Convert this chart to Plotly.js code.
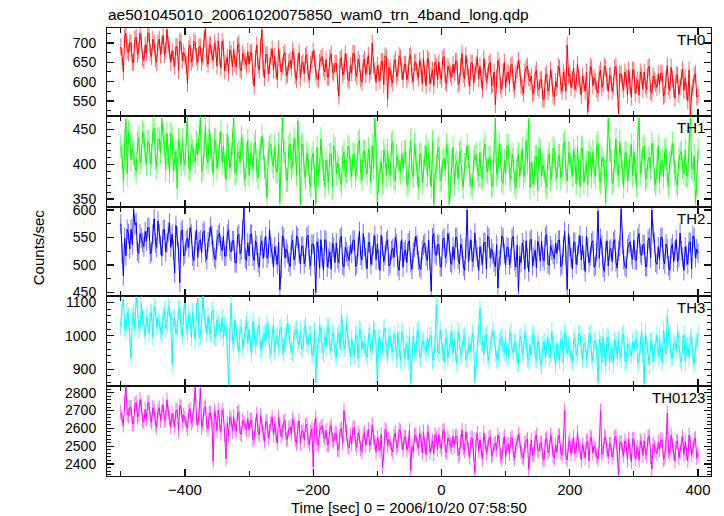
<!DOCTYPE html>
<html><head><meta charset="utf-8">
<script src="https://cdn.plot.ly/plotly-3.0.1.min.js"></script>
<style>html,body{margin:0;padding:0;background:#fff}#chart{width:724px;height:516px}</style>
</head><body><div id="chart"></div>
<script>
// 2-s time bins from -500 s; "A" arrays hold bins at t = -500 + 4i, "B" arrays bins at t = -498 + 4i
const tStart = -500, tStep = 2;

const th0A = [
690,625,725,675,700,650,715,680,705,655,
675,725,665,700,650,710,695,670,735,680,
680,640,690,705,655,665,595,695,660,700,
650,690,665,738,645,695,655,685,705,635,
688,648,623,673,683,638,698,628,663,643,
645,675,588,695,630,735,610,670,640,685,
665,605,660,640,675,620,655,680,615,650,
610,650,665,620,645,680,625,605,660,635,
657,612,672,622,647,562,662,627,652,602,
623,673,613,648,598,658,643,618,700,628,
642,602,652,667,555,627,597,657,622,662,
605,645,620,670,600,650,610,640,660,590,
655,615,590,640,650,605,665,595,630,610,
623,653,598,673,608,638,588,648,618,663,
640,580,635,615,650,595,540,655,590,625,
585,625,640,595,620,655,590,570,635,610,
615,570,630,580,605,555,620,585,610,560,
585,635,575,610,695,620,605,580,645,590,
615,575,522,640,590,600,570,630,595,635,
575,615,590,640,518,620,580,610,630,560,
630,590,565,615,625,580,640,570,605,585,
592,622,567,642,577,607,557,617,587,632,
610,550,512,585,620,565];
const th0B = [
665,715,680,700,650,710,670,725,660,695,
725,675,710,660,700,670,720,680,695,650,
660,690,630,700,675,645,685,650,705,665,
690,650,710,660,695,670,700,640,665,705,
628,663,683,638,648,693,633,673,653,678,
675,615,660,640,690,635,670,620,665,630,
630,685,625,670,615,650,635,665,605,675,
645,620,670,605,655,660,610,650,665,625,
612,662,627,647,597,657,617,672,607,642,
673,623,658,608,648,618,668,628,643,598,
622,652,592,662,637,607,647,612,667,627,
645,605,665,615,650,625,655,595,620,660,
595,630,650,605,615,660,600,640,620,645,
653,593,638,618,668,613,648,598,643,608,
605,660,600,645,590,625,610,640,580,650,
620,595,645,580,630,635,585,625,640,600,
570,620,585,605,555,615,575,630,565,600,
640,590,625,575,615,585,635,595,610,565,
595,625,565,635,610,580,620,585,640,600,
615,575,635,585,620,595,625,565,590,630,
570,605,625,580,590,635,575,615,595,620,
622,562,607,587,637,582,617,567,612,577,
575,630,570,615,560];

const th1A = [
426,376,464,446,406,414,390,438,410,442,
400,432,412,452,396,436,465,428,444,388,
439,407,366,427,435,399,466,391,419,403,
414,466,394,454,402,426,386,434,410,446,
426,378,422,406,466,390,418,438,386,414,
384,416,428,392,412,440,396,352,424,404,
425,389,345,466,417,377,429,401,421,462,
342,428,380,408,368,416,344,384,436,392,
406,374,414,426,386,394,370,418,390,422,
382,414,394,434,378,418,386,410,426,465,
345,392,372,412,420,384,432,376,404,388,
394,418,374,434,382,406,366,414,390,426,
416,368,342,396,424,380,408,428,343,404,
371,403,415,379,399,427,383,367,411,391,
417,381,429,389,409,369,466,393,413,373,
386,426,378,406,366,414,402,382,434,464,
403,371,411,423,383,391,367,415,387,419,
380,412,392,432,376,416,384,408,424,368,
422,390,370,410,418,382,430,374,402,345,
465,420,376,436,384,408,368,416,392,428,
418,370,466,398,426,382,410,430,378,406,
374,406,418,382,402,430,386,370,414,394,
420,384,466,392,345,420];
const th1B = [
410,434,386,442,422,398,430,402,446,414,
432,400,448,408,436,416,440,392,412,444,
391,419,435,399,407,443,395,427,411,431,
438,390,426,410,450,406,434,394,430,402,
398,442,394,430,386,414,402,426,378,434,
412,392,432,380,420,424,384,416,428,396,
389,429,401,417,377,425,393,437,385,413,
428,388,416,376,408,384,424,392,404,368,
390,414,366,422,402,378,410,382,426,394,
414,382,430,390,418,398,422,374,394,426,
376,404,420,384,392,428,380,412,396,416,
418,370,406,390,430,386,414,374,410,382,
388,432,384,420,376,404,392,416,368,424,
399,379,419,367,407,411,371,403,415,383,
381,421,393,409,369,417,385,429,377,405,
426,386,414,374,406,382,422,390,402,366,
387,411,363,419,399,375,407,379,423,391,
412,380,428,388,416,396,420,372,392,424,
374,402,418,382,390,426,378,410,394,414,
420,372,408,392,432,388,416,376,412,384,
390,434,386,422,378,406,394,418,370,426,
402,382,422,370,410,414,374,406,418,386,
384,424,396,412,372];

const th2A = [
575,480,517,557,565,602,577,521,549,533,
544,568,524,584,532,556,516,564,540,576,
556,485,552,468,564,520,548,568,516,544,
514,546,558,522,542,570,526,510,554,534,
552,516,564,524,544,504,556,528,604,508,
516,556,508,536,496,544,532,512,564,520,
533,501,455,553,513,521,497,545,517,549,
502,534,514,554,498,538,450,530,546,490,
544,512,492,532,540,504,552,496,524,508,
521,545,501,561,509,533,493,541,517,553,
538,490,534,518,546,502,530,550,498,526,
496,528,540,504,524,552,508,492,536,516,
545,452,557,517,537,497,549,521,541,501,
510,550,502,530,490,600,526,506,558,514,
533,501,541,553,513,521,497,458,517,549,
500,532,512,552,496,452,504,528,544,488,
547,515,495,535,543,507,555,499,527,511,
521,545,501,561,455,533,493,541,517,553,
536,488,532,516,544,500,598,548,496,524,
498,530,542,506,526,602,510,494,538,518,
545,509,557,517,537,497,549,600,541,501,
510,550,502,530,490,538,526,506,558,514,
533,501,541,553,513,521];
const th2B = [
521,549,565,529,537,573,525,557,541,561,
568,520,556,540,580,536,564,524,560,532,
528,572,524,560,516,544,532,556,508,564,
542,522,562,510,550,554,514,546,558,526,
516,556,528,544,504,552,520,564,512,540,
556,516,544,504,536,512,552,520,532,496,
517,541,493,549,529,505,537,509,553,521,
534,502,550,510,538,518,542,494,514,546,
496,524,540,504,512,548,500,532,516,536,
545,497,533,517,557,513,541,501,537,509,
510,554,506,542,498,526,514,538,490,546,
524,504,544,492,532,536,496,528,540,508,
509,549,521,537,497,545,513,557,505,533,
550,510,538,498,530,506,546,514,526,490,
517,541,493,549,529,505,537,509,553,521,
532,500,548,508,536,516,540,492,512,544,
499,527,543,507,515,551,503,535,519,539,
545,497,533,517,557,513,541,501,537,509,
508,552,504,540,496,524,512,536,488,544,
526,506,546,494,534,538,498,530,542,510,
509,549,521,537,497,545,513,557,505,533,
550,510,538,498,530,506,546,514,526,490,
517,541,493,549,529];

const th3A = [
1027,1110,1015,1057,935,1069,1115,1021,1099,1033,
1057,1009,1069,1087,1027,1039,1003,1075,1033,1081,
915,1053,1023,1083,999,1118,1011,1047,1071,987,
1112,1000,1118,1048,1060,1006,1078,994,1036,1012,
994,1030,852,1098,976,1012,952,1024,988,1042,
1019,947,1013,989,1031,965,1007,1037,959,1001,
954,1002,1020,966,996,1038,972,948,1014,984,
1015,961,1033,973,1003,943,862,979,1009,949,
967,1027,955,997,937,1009,1065,961,1039,973,
990,942,1002,1020,960,972,936,1008,966,1014,
862,993,963,1023,939,999,951,987,1011,927,
1006,958,928,860,1000,946,1018,934,976,952,
964,1000,934,1092,946,982,922,994,958,1012,
989,917,983,959,1001,935,977,1007,862,971,
1082,980,998,944,974,1016,950,926,992,962,
992,938,1010,950,980,920,998,956,986,926,
942,1002,930,972,912,984,966,936,1014,948,
977,929,989,1007,947,959,923,995,953,1001,
930,978,948,1008,924,984,862,972,996,912,
994,946,916,976,988,934,1006,922,964,940,
954,990,924,1014,858,972,912,984,948,1002,
992,920,986,1058,1004,938,980,1010,932,974,
924,972,990,936,966,1008];
const th3B = [
1087,1027,1069,1009,1057,1021,1081,1033,1051,997,
1033,1069,997,1081,1051,1015,1063,1021,1087,1039,
1053,1005,1077,1017,1059,1029,1065,993,1023,1071,
994,1036,1060,1006,1018,1072,1000,1048,1024,1054,
1030,958,1012,988,1048,982,1024,964,1018,976,
977,1043,971,1025,959,1001,983,1019,947,1031,
996,966,1026,948,1008,1014,954,1002,1020,972,
961,1021,979,1003,943,1015,967,1033,955,997,
1027,967,1009,949,997,961,1021,973,991,937,
966,1002,930,1014,984,948,996,954,1020,972,
993,945,1017,957,999,969,1005,933,963,1011,
934,976,1000,946,958,1012,940,988,964,994,
1000,928,982,958,1018,952,994,934,988,946,
947,1013,941,995,929,971,953,989,917,1001,
974,944,1004,926,986,992,932,980,998,950,
938,998,956,980,920,992,944,1010,932,974,
1002,942,984,924,972,936,996,948,966,912,
953,989,917,1001,971,935,983,941,1007,959,
978,930,1002,942,984,954,990,918,948,996,
922,964,988,934,946,1000,928,976,952,982,
990,918,972,948,1008,942,984,924,978,936,
950,1016,944,998,932,974,956,992,920,1004,
966,936,996,918,978];

const th0123A = [
2690,2620,2835,2672,2717,2627,2744,2681,2726,2636,
2653,2743,2635,2698,2608,2716,2689,2644,2761,2662,
2683,2611,2701,2728,2638,2656,2602,2710,2647,2830,
2620,2825,2632,2722,2596,2686,2415,2668,2704,2578,
2674,2430,2557,2647,2665,2584,2692,2566,2629,2593,
2591,2645,2546,2681,2564,2618,2528,2636,2582,2663,
2626,2518,2617,2581,2644,2545,2608,2653,2536,2599,
2516,2588,2615,2534,2579,2385,2660,2507,2606,2561,
2590,2509,2617,2527,2572,2482,2599,2700,2581,2491,
2513,2603,2495,2558,2468,2576,2549,2504,2621,2522,
2548,2476,2385,2593,2503,2521,2467,2575,2512,2584,
2480,2552,2507,2365,2471,2561,2489,2543,2579,2453,
2574,2502,2457,2547,2565,2484,2592,2466,2529,2493,
2501,2555,2456,2591,2474,2528,2438,2546,2352,2573,
2536,2428,2527,2491,2554,2455,2518,2563,2446,2509,
2441,2513,2540,2459,2504,2567,2468,2432,2531,2372,
2535,2454,2562,2472,2517,2427,2544,2481,2526,2436,
2468,2558,2450,2700,2423,2531,2504,2459,2576,2477,
2508,2436,2526,2553,2463,2481,2427,2700,2472,2544,
2440,2512,2467,2557,2340,2521,2449,2503,2539,2413,
2539,2467,2422,2512,2530,2449,2557,2372,2494,2458,
2481,2535,2436,2685,2454,2508,2418,2526,2472,2553,
2526,2418,2517,2481,2544,2455];
const th0123B = [
2654,2744,2681,2717,2627,2735,2663,2762,2645,2708,
2743,2653,2716,2626,2698,2644,2734,2662,2689,2608,
2647,2701,2593,2719,2674,2620,2692,2629,2728,2656,
2677,2605,2713,2623,2686,2641,2695,2587,2632,2704,
2566,2629,2665,2584,2602,2683,2575,2647,2611,2656,
2645,2537,2618,2582,2672,2573,2636,2546,2627,2564,
2563,2662,2554,2635,2536,2599,2572,2626,2518,2644,
2579,2534,2624,2507,2597,2606,2516,2588,2615,2543,
2509,2599,2536,2572,2482,2590,2518,2617,2500,2563,
2603,2513,2576,2486,2558,2504,2594,2522,2549,2468,
2512,2566,2458,2584,2539,2485,2557,2494,2593,2521,
2552,2480,2588,2498,2561,2516,2570,2462,2507,2579,
2466,2529,2565,2484,2502,2583,2475,2547,2511,2556,
2555,2447,2528,2492,2582,2483,2546,2456,2537,2474,
2473,2572,2464,2545,2446,2509,2482,2536,2428,2554,
2504,2459,2549,2432,2522,2531,2441,2513,2540,2468,
2454,2544,2481,2517,2427,2535,2463,2562,2445,2508,
2558,2468,2531,2441,2513,2459,2549,2477,2504,2423,
2472,2526,2418,2544,2499,2445,2517,2454,2553,2481,
2512,2440,2548,2458,2521,2476,2530,2422,2467,2539,
2431,2494,2530,2449,2467,2548,2440,2512,2476,2521,
2535,2427,2508,2472,2562,2463,2526,2436,2517,2454,
2463,2562,2454,2535,2436];

// typical 1-sigma error per bin for each band (counts/sec)
const bandErrors = [22, 17, 18, 27, 42];

const bandNames = ['TH0', 'TH1', 'TH2', 'TH3', 'TH0123'];
const titleText = 'ae501045010_20061020075850_wam0_trn_4band_long.qdp';
const xTitle = 'Time [sec] 0 = 2006/10/20 07:58:50';
const yTitle = 'Counts/sec';

function mergeBins(a, b) {
  const out = [];
  for (let i = 0; i < a.length; i++) {
    out.push(a[i]);
    if (i < b.length) out.push(b[i]);
  }
  return out;
}

const series = [mergeBins(th0A, th0B), mergeBins(th1A, th1B), mergeBins(th2A, th2B),
                mergeBins(th3A, th3B), mergeBins(th0123A, th0123B)];
const colors = ['#ff0000', '#00ff00', '#0000ff', '#00ffff', '#ff00ff'];
const errColors = ['rgba(255,0,0,0.6)', 'rgba(0,255,0,0.6)', 'rgba(0,0,255,0.55)', 'rgba(0,255,255,0.6)', 'rgba(255,0,255,0.6)'];
const yRanges = [[511, 739], [339, 469], [444, 606], [850, 1120], [2333, 2838]];
const yDticks = [50, 50, 50, 100, 100];
const yMinor = [25, 10, 25, 20, 20];
const domains = [[0.8036, 1], [0.6011, 0.8036], [0.4025, 0.6011], [0.2009, 0.4025], [0, 0.2009]];

const time = series[0].map((_, i) => tStart + i * tStep);

const FONT = 'Liberation Sans, Arial, Helvetica, sans-serif';
const traces = [];
const layout = {
  width: 724, height: 516,
  margin: {l: 107, r: 13, t: 28, b: 40},
  paper_bgcolor: '#fff', plot_bgcolor: '#fff',
  showlegend: false,
  font: {family: FONT, size: 15, color: '#000'},
  annotations: []
};

series.forEach((s, k) => {
  const n = k === 0 ? '' : String(k + 1);
  traces.push({
    x: time, y: s, type: 'scatter', mode: 'lines',
    line: {color: colors[k], width: 1},
    error_y: {type: 'constant', value: bandErrors[k], width: 0, thickness: 1, color: errColors[k]},
    xaxis: 'x' + n, yaxis: 'y' + n, hoverinfo: 'skip', cliponaxis: true
  });
  layout['xaxis' + n] = {
    range: [-521.5, 420.2], anchor: 'y' + n,
    matches: k === 0 ? undefined : 'x',
    showline: true, mirror: 'ticks', linecolor: '#111', linewidth: 1,
    ticks: 'inside', ticklen: 7, tickwidth: 1.2, tickcolor: '#111',
    tick0: 0, dtick: 200,
    minor: {dtick: 100, ticklen: 5, tickwidth: 1, tickcolor: '#111', ticks: 'inside'},
    showgrid: false, zeroline: false,
    showticklabels: k === 4,
    tickfont: {size: 15}
  };
  layout['yaxis' + n] = {
    domain: domains[k], range: yRanges[k], anchor: 'x' + n,
    showline: true, mirror: 'ticks', linecolor: '#111', linewidth: 1,
    ticks: 'inside', ticklen: 7, tickwidth: 1.2, tickcolor: '#111',
    tick0: 0, dtick: yDticks[k],
    minor: {dtick: yMinor[k], ticklen: 4, tickwidth: 1, tickcolor: '#111', ticks: 'inside'},
    showgrid: false, zeroline: false,
    tickfont: {size: 14}, ticklabelstandoff: 7
  };
  layout.annotations.push({
    text: bandNames[k], xref: 'paper', yref: 'paper',
    x: 1, y: domains[k][1], xanchor: 'right', yanchor: 'top',
    xshift: -4, yshift: -1, showarrow: false, font: {size: 15}
  });
});

layout.annotations.push({
  text: titleText, xref: 'paper', yref: 'paper', x: 0, y: 1.03125,
  xanchor: 'left', yanchor: 'middle', xshift: -1, showarrow: false, font: {size: 15.5}
});
layout.annotations.push({
  text: xTitle, xref: 'paper', yref: 'paper', x: 0.5, y: -0.0692,
  xanchor: 'center', yanchor: 'middle', showarrow: false, font: {size: 15}
});
layout.annotations.push({
  text: yTitle, xref: 'paper', yref: 'paper', x: -0.114, y: 0.511,
  xanchor: 'center', yanchor: 'middle', textangle: -90, showarrow: false, font: {size: 15}
});

Plotly.newPlot('chart', traces, layout, {displayModeBar: false, staticPlot: true});
</script>
</body></html>
